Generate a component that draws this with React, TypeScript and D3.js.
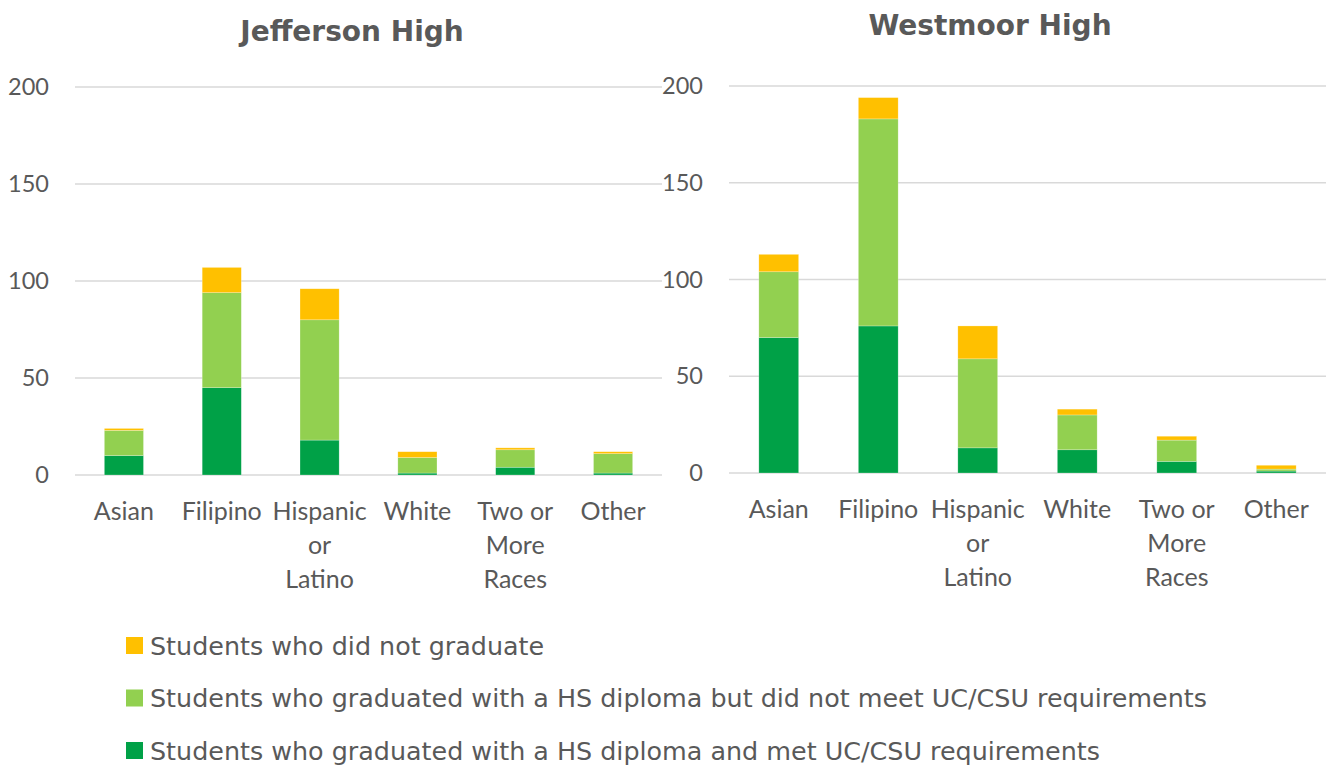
import { useEffect, useRef } from 'react';
import * as d3 from 'd3';

// categories and tick labels
const categories = ['Asian', 'Filipino', 'Hispanic or Latino', 'White', 'Two or More Races', 'Other'];
const categoryLines = [['Asian'], ['Filipino'], ['Hispanic', 'or', 'Latino'], ['White'], ['Two or', 'More', 'Races'], ['Other']];
const yTicks = [0, 50, 100, 150, 200];

// series, bottom to top
const seriesKeys = ['met', 'notMet', 'notGrad'];
const seriesNames = [
  'Students who graduated with a HS diploma and met UC/CSU requirements',
  'Students who graduated with a HS diploma but did not meet UC/CSU requirements',
  'Students who did not graduate',
];
const seriesColors = ['#00A147', '#92D050', '#FFC000'];

// Jefferson High
const jeffersonMet = [10, 45, 18, 1, 4, 1];
const jeffersonNotMet = [13, 49, 62, 8, 9, 10];
const jeffersonNotGrad = [1, 13, 16, 3, 1, 1];

// Westmoor High
const westmoorMet = [70, 76, 13, 12, 6, 1];
const westmoorNotMet = [34, 107, 46, 18, 11, 1];
const westmoorNotGrad = [9, 11, 17, 3, 2, 2];

const width = 1331;
const height = 770;
const textColor = '#595959';
const tickFont = 'Lato, "Open Sans", sans-serif';
const titleFont = '"DejaVu Sans", Lato, sans-serif';

const buildRows = (met, notMet, notGrad) =>
  categories.map((c, i) => ({ category: c, met: met[i], notMet: notMet[i], notGrad: notGrad[i] }));

const App = () => {
  const chartRef = useRef(null);

  useEffect(() => {
    const svg = d3.select(chartRef.current);
    svg.selectAll('*').remove();

    const panels = [
      { title: 'Jefferson High', rows: buildRows(jeffersonMet, jeffersonNotMet, jeffersonNotGrad),
        x0: 75, x1: 662, yTop: 87, yBottom: 475, labelX: 49, titleX: 352, titleY: 41 },
      { title: 'Westmoor High', rows: buildRows(westmoorMet, westmoorNotMet, westmoorNotGrad),
        x0: 729, x1: 1326, yTop: 86, yBottom: 473, labelX: 703, titleX: 990, titleY: 35 },
    ];

    const color = d3.scaleOrdinal().domain(seriesKeys).range(seriesColors);

    panels.forEach(p => {
      const g = svg.append('g');

      const x = d3.scaleBand()
        .domain(categories)
        .range([p.x0, p.x1])
        .paddingInner(0.6)
        .paddingOuter(0.3);

      const y = d3.scaleLinear()
        .domain([0, 200])
        .range([p.yBottom, p.yTop]);

      // gridlines
      g.append('g')
        .selectAll('line')
        .data(yTicks)
        .join('line')
        .attr('x1', p.x0)
        .attr('x2', p.x1)
        .attr('y1', d => y(d))
        .attr('y2', d => y(d))
        .attr('stroke', '#D9D9D9')
        .attr('stroke-width', 1.5);

      // y labels
      g.append('g')
        .selectAll('text')
        .data(yTicks)
        .join('text')
        .attr('x', p.labelX)
        .attr('y', d => y(d))
        .attr('dy', '0.35em')
        .attr('text-anchor', 'end')
        .attr('font-family', tickFont)
        .attr('font-size', 23.5)
        .attr('fill', textColor)
        .text(d => d);

      // stacked bars
      const stacked = d3.stack().keys(seriesKeys)(p.rows);
      g.append('g')
        .selectAll('g')
        .data(stacked)
        .join('g')
        .attr('fill', d => color(d.key))
        .selectAll('rect')
        .data(d => d)
        .join('rect')
        .attr('x', d => x(d.data.category))
        .attr('y', d => y(d[1]))
        .attr('width', x.bandwidth())
        .attr('height', d => y(d[0]) - y(d[1]))
        .attr('stroke', '#ffffff')
        .attr('stroke-opacity', 0.4)
        .attr('stroke-width', 0.6);

      // category labels
      g.append('g')
        .selectAll('text')
        .data(categories)
        .join('text')
        .attr('x', d => x(d) + x.bandwidth() / 2)
        .attr('y', p.yBottom + 45)
        .attr('text-anchor', 'middle')
        .attr('font-family', tickFont)
        .attr('font-size', 25)
        .attr('fill', textColor)
        .each(function (d, i) {
          d3.select(this)
            .selectAll('tspan')
            .data(categoryLines[i])
            .join('tspan')
            .attr('x', x(d) + x.bandwidth() / 2)
            .attr('dy', (_, j) => (j === 0 ? 0 : 34))
            .text(t => t);
        });

      // title
      g.append('text')
        .attr('x', p.titleX)
        .attr('y', p.titleY)
        .attr('text-anchor', 'middle')
        .attr('font-family', titleFont)
        .attr('font-weight', 'bold')
        .attr('font-size', 28)
        .attr('fill', textColor)
        .text(p.title);
    });

    // legend, top to bottom
    const legendOrder = [2, 1, 0];
    const legend = svg.append('g')
      .selectAll('g')
      .data(legendOrder)
      .join('g')
      .attr('transform', (_, i) => `translate(126,${637 + i * 52.5})`);

    legend.append('rect')
      .attr('width', 17)
      .attr('height', 17)
      .attr('fill', d => seriesColors[d]);

    legend.append('text')
      .attr('x', 24)
      .attr('y', 9)
      .attr('dy', '0.35em')
      .attr('font-family', titleFont)
      .attr('font-size', 25.4)
      .attr('fill', textColor)
      .text(d => seriesNames[d]);
  }, []);

  return (
    <svg
      ref={chartRef}
      width={width}
      height={height}
      viewBox={`0 0 ${width} ${height}`}
      style={{ position: 'absolute', left: 0, top: 0, background: '#fff' }}
    />
  );
};

export default App;
